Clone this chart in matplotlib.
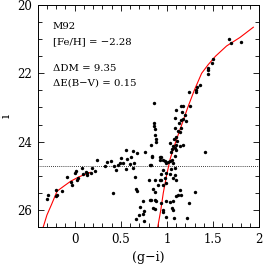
import matplotlib
matplotlib.use("Agg")
import matplotlib.pyplot as plt
from matplotlib.ticker import MultipleLocator

plt.rcParams['font.family'] = ['DejaVu Serif']
plt.rcParams['mathtext.fontset'] = 'dejavuserif'

# Observed stars: colour (g-i) and magnitude i
rgb_x = [1.673, 1.689, 1.80, 1.50, 1.483, 1.439, 1.439, 1.446, 1.355, 1.323, 1.319, 1.312, 1.243]
rgb_i = [21.00, 21.12, 21.09, 21.58, 21.71, 21.83, 21.91, 22.02, 22.35, 22.41, 22.49, 22.55, 22.54]

sgb_x = [0.855, 1.10, 1.149, 1.174, 1.247, 1.16, 1.192, 1.084, 1.174, 1.149, 1.21, 1.13, 0.855, 0.855,
         0.866, 1.09, 1.149, 1.12, 1.138, 0.866, 0.877, 1.10, 1.073, 1.113, 0.877, 1.03, 1.10, 1.174,
         1.065, 1.138, 0.83, 1.084, 1.059, 1.10, 1.048, 1.41, 0.841, 0.939, 1.084, 0.92, 0.957, 0.975,
         1.01, 0.993, 1.03, 1.054]
sgb_i = [22.87, 23.07, 22.97, 22.97, 22.97, 23.13, 23.23, 23.31, 23.33, 23.36, 23.41, 23.45, 23.45, 23.53,
         23.62, 23.60, 23.60, 23.68, 23.73, 23.80, 23.91, 23.87, 23.92, 23.97, 24.02, 24.04, 24.09, 24.09,
         24.14, 24.14, 24.10, 24.19, 24.23, 24.26, 24.30, 24.31, 24.46, 24.46, 24.43, 24.53, 24.53, 24.58,
         24.60, 24.62, 24.58, 24.53]

mid_x = [0.558, 0.63, 0.678, 0.758, 0.837, 0.504, 0.569, 0.613, 0.395, 0.486, 0.522, 0.467, 0.595,
         0.64, 0.812, 0.43, 0.558, 0.63, 0.452, 0.656, 0.804, 0.42, 0.92]
mid_i = [24.25, 24.28, 24.33, 24.31, 24.43, 24.47, 24.51, 24.45, 24.58, 24.64, 24.64, 24.67, 24.65,
         24.62, 24.67, 24.70, 24.80, 24.77, 24.83, 25.04, 25.11, 25.51, 24.45]

hb_x = [0.239, 0.355, 0.326, 0.217, 0.185, 0.174, 0.12, 0.138, 0.095, 0.13, 0.076, 0.011, 0.004,
        0.037, 0.029, -0.087, -0.043, -0.025, -0.134, -0.206, -0.196, -0.206, -0.289, -0.304]
hb_i = [24.55, 24.60, 24.72, 24.87, 24.77, 24.91, 24.88, 24.91, 24.94, 24.99, 24.77, 24.87, 24.91,
        25.06, 25.11, 25.03, 25.19, 25.27, 25.45, 25.42, 25.55, 25.60, 25.57, 25.67]

ms_x = [0.823, 1.065, 1.084, 1.048, 0.957, 0.993, 1.037, 0.939, 0.975, 1.084, 1.065, 1.10, 0.939,
        0.866, 0.993, 0.957, 0.902, 0.848, 0.875, 1.138, 1.308, 1.12, 1.157, 1.10, 0.823, 0.877,
        0.993, 1.03, 1.065, 0.939, 1.239, 1.059, 1.065, 0.957, 0.957, 1.222, 1.076, 0.993, 0.92,
        0.66, 0.67]
ms_i = [24.67, 24.64, 24.77, 24.80, 24.84, 24.93, 24.96, 24.96, 25.06, 24.99, 25.06, 25.11, 25.13,
        25.13, 25.21, 25.26, 25.26, 25.38, 25.47, 25.42, 25.47, 25.55, 25.57, 25.60, 25.71, 25.74,
        25.74, 25.77, 25.74, 25.81, 25.81, 25.94, 26.01, 25.99, 26.06, 26.23, 26.23, 26.21, 25.11,
        25.38, 25.46]

low_x = [0.739, 0.812, 0.866, 0.703, 0.848, 0.866, 0.75, 0.692, 0.739, 0.66, 0.75]
low_i = [25.74, 25.72, 25.70, 25.92, 25.94, 25.96, 26.04, 26.16, 26.13, 26.28, 26.31]

# Isochrone (red): main sequence / red giant branch and horizontal branch
iso_x = [0.90, 0.933, 0.96, 0.995, 1.035, 1.095, 1.16, 1.225, 1.295, 1.375, 1.445, 1.525, 1.645, 1.79, 1.935]
iso_i = [26.5, 26.0, 25.5, 25.0, 24.5, 24.0, 23.5, 23.0, 22.5, 22.0, 21.75, 21.5, 21.2, 20.95, 20.65]
hbi_x = [-0.34, -0.30, -0.25, -0.19, -0.115, -0.043, 0.048, 0.17]
hbi_i = [26.5, 26.15, 25.84, 25.45, 25.30, 25.16, 25.03, 24.9]

hb_level = 24.7

fig = plt.figure(figsize=(2.66, 2.65), dpi=100)
ax = fig.add_axes([0.1417, 0.1434, 0.8333, 0.8377])

ax.plot(iso_x, iso_i, color='#ff0000', lw=0.8, zorder=2)
ax.plot(hbi_x, hbi_i, color='#ff0000', lw=0.8, zorder=2)
ax.axhline(hb_level, color='black', ls=(0, (1, 1.5)), lw=0.6, zorder=1)

for xs, ys in [(rgb_x, rgb_i), (sgb_x, sgb_i), (mid_x, mid_i), (hb_x, hb_i), (ms_x, ms_i), (low_x, low_i)]:
    ax.scatter(xs, ys, s=6, color='black', linewidths=0, zorder=3)

ax.set_xlim(-0.4, 2.0)
ax.set_ylim(26.5, 20.0)
ax.xaxis.set_major_locator(MultipleLocator(0.5))
ax.xaxis.set_minor_locator(MultipleLocator(0.1))
ax.yaxis.set_major_locator(MultipleLocator(2))
ax.yaxis.set_minor_locator(MultipleLocator(0.5))
ax.set_xticks([0, 0.5, 1, 1.5, 2])
ax.set_xticklabels(['0', '0.5', '1', '1.5', '2'])
ax.tick_params(which='both', direction='in', top=True, right=True, labelsize=8.5, width=0.6, colors='black')
ax.tick_params(which='major', length=4.5, pad=4)
ax.tick_params(which='minor', length=2.8)
for s in ax.spines.values():
    s.set_linewidth(0.7)

ax.set_xlabel('(g\u2212i)', fontsize=9, labelpad=4)
ax.set_ylabel('i', fontsize=9)
ax.yaxis.set_label_coords(-0.115, 0.5)

tx = 0.069
fs = 7.3
ax.text(tx, 0.901, 'M92', transform=ax.transAxes, fontsize=fs, va='center')
ax.text(tx, 0.833, '[Fe/H] = \u22122.28', transform=ax.transAxes, fontsize=fs, va='center')
ax.text(tx, 0.716, '\u0394DM = 9.35', transform=ax.transAxes, fontsize=fs, va='center')
ax.text(tx, 0.649, '\u0394E(B\u2212V) = 0.15', transform=ax.transAxes, fontsize=fs, va='center')

fig.savefig('out.png', dpi=100)
